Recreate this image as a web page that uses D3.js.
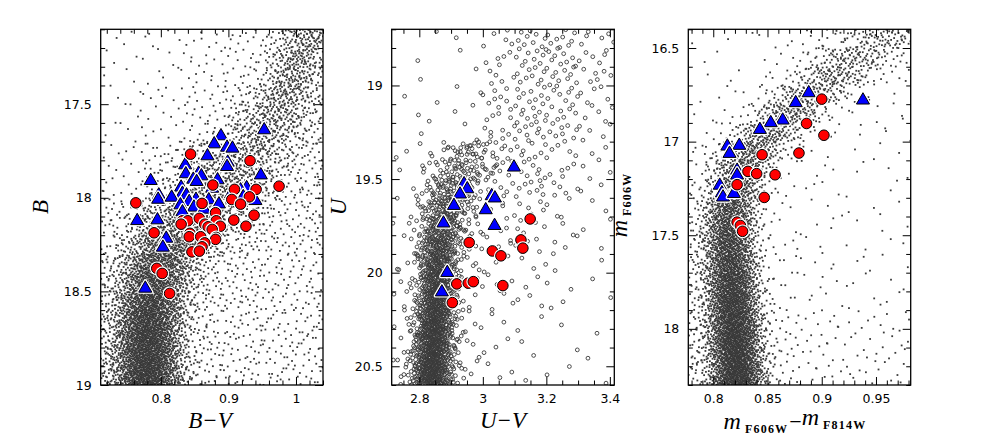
<!DOCTYPE html>
<html><head><meta charset="utf-8">
<script src="https://cdn.jsdelivr.net/npm/d3@7"></script>
<style>body{margin:0;background:#fff}svg{display:block}</style>
</head><body><svg id="c" width="981" height="443"></svg>
<script>
// ---------------- DATA ----------------
// Panel 1 : B vs B-V
const bvTriangles = [[0.953,17.638],[0.889,17.670],[0.879,17.713],[0.898,17.731],[0.906,17.736],[0.869,17.777],[0.899,17.811],[0.898,17.834],[0.836,17.825],[0.948,17.879],[0.837,17.873],[0.856,17.870],[0.860,17.884],[0.848,17.902],[0.785,17.909],[0.884,17.905],[0.853,17.914],[0.876,17.950],[0.830,17.944],[0.927,17.947],[0.918,17.959],[0.832,17.977],[0.838,17.986],[0.797,17.986],[0.796,18.009],[0.816,17.998],[0.904,17.980],[0.922,17.995],[0.931,18.012],[0.940,18.016],[0.852,18.009],[0.842,18.021],[0.871,18.012],[0.886,18.034],[0.829,18.039],[0.849,18.051],[0.864,18.062],[0.832,18.076],[0.765,18.123],[0.795,18.119],[0.808,18.217],[0.803,18.265],[0.777,18.484]];
const bvCircles = [[0.844,17.767],[0.932,17.802],[0.877,17.932],[0.975,17.938],[0.941,17.955],[0.909,17.955],[0.931,17.995],[0.905,18.009],[0.918,18.034],[0.763,18.027],[0.861,18.030],[0.881,18.080],[0.938,18.093],[0.832,18.123],[0.840,18.123],[0.857,18.110],[0.882,18.123],[0.908,18.119],[0.830,18.141],[0.865,18.141],[0.870,18.155],[0.888,18.152],[0.926,18.152],[0.876,18.169],[0.790,18.187],[0.843,18.190],[0.842,18.208],[0.859,18.208],[0.882,18.212],[0.881,18.222],[0.865,18.241],[0.861,18.262],[0.846,18.289],[0.857,18.285],[0.794,18.377],[0.802,18.404],[0.813,18.511]];
const bvRidgeMag   = [17.15,17.25,17.35,17.45,17.55,17.65,17.75,17.85,17.95,18.05,18.15,18.25,18.35,18.45,18.55,18.65,18.75,18.85,18.95];
const bvRidgeColor = [1.015,1.005,0.995,0.985,0.970,0.955,0.930,0.905,0.880,0.855,0.830,0.810,0.797,0.790,0.785,0.782,0.781,0.780,0.780];
const bvRidgeWidth = [0.024,0.024,0.025,0.027,0.031,0.036,0.041,0.046,0.050,0.050,0.045,0.036,0.031,0.029,0.028,0.027,0.027,0.027,0.027];
const bvRidgeCount = [90,95,100,105,110,115,125,145,175,205,235,270,310,355,400,430,460,480,500];
const bvFieldColorEdges = [0.711,0.77,0.83,0.89,0.95,1.04];
const bvFieldMagEdges = [17.1,17.4,17.7,18.0,18.3,18.6,19.0];
const bvFieldCounts = [[9,13,22,34,68],[11,18,34,56,85],[18,45,90,90,85],[34,90,112,78,85],[67,90,67,56,68],[120,120,75,66,91]];
const bvXTicks = [0.8,0.9,1.0];
const bvYTicks = [17.5,18,18.5,19];

// Panel 2 : U vs U-V
const uvTriangles = [[3.098,19.437],[2.941,19.526],[2.951,19.553],[2.928,19.581],[3.028,19.590],[3.038,19.602],[2.909,19.642],[3.009,19.665],[2.876,19.736],[3.037,19.749],[2.888,20.000],[2.871,20.104]];
const uvCircles = [[3.149,19.713],[2.957,19.839],[3.120,19.825],[3.126,19.869],[3.030,19.884],[3.057,19.910],[2.918,20.060],[2.954,20.056],[2.970,20.048],[3.063,20.069],[2.904,20.160]];
const uvRidgeMag   = [19.35,19.45,19.55,19.65,19.75,19.85,19.95,20.05,20.15,20.25,20.35,20.45,20.55];
const uvRidgeColor = [2.960,2.930,2.905,2.885,2.870,2.862,2.858,2.855,2.852,2.850,2.846,2.842,2.840];
const uvRidgeWidth = [0.050,0.050,0.045,0.040,0.038,0.036,0.034,0.032,0.032,0.033,0.034,0.035,0.036];
const uvRidgeCount = [25,40,60,75,90,100,110,120,135,145,155,165,170];
const uvFieldColorEdges = [2.713,2.8,2.9,3.0,3.1,3.2,3.3,3.414];
const uvFieldMagEdges = [18.7,19.0,19.3,19.6,19.9,20.2,20.6];
const uvFieldCounts = [[1,2,3,15,28,28,18],[2,3,6,20,28,25,15],[4,20,25,25,25,15,8],[6,15,25,18,14,10,5],[8,15,15,10,8,5,3],[10,15,15,8,5,4,3]];
const uvXTicks = [2.8,3.0,3.2,3.4];
const uvYTicks = [19,19.5,20,20.5];

// Panel 3 : mF606W vs mF606W-mF814W
const hstTriangles = [[0.888,16.740],[0.938,16.779],[0.876,16.793],[0.864,16.886],[0.853,16.900],[0.843,16.936],[0.813,17.025],[0.824,17.021],[0.815,17.064],[0.822,17.154],[0.822,17.180],[0.806,17.234],[0.808,17.275],[0.809,17.297],[0.819,17.278]];
const hstCircles = [[0.900,16.773],[0.886,16.903],[0.902,16.966],[0.845,17.070],[0.879,17.061],[0.832,17.159],[0.840,17.171],[0.857,17.177],[0.822,17.230],[0.847,17.298],[0.822,17.430],[0.825,17.448],[0.827,17.479]];
const hstRidgeMag   = [16.45,16.55,16.65,16.75,16.85,16.95,17.05,17.15,17.25,17.35,17.45,17.55,17.65,17.75,17.85,17.95,18.05,18.15,18.25];
const hstRidgeColor = [0.955,0.930,0.910,0.890,0.870,0.850,0.836,0.826,0.820,0.816,0.815,0.815,0.816,0.817,0.818,0.819,0.820,0.821,0.822];
const hstRidgeWidth = [0.021,0.021,0.020,0.019,0.018,0.017,0.016,0.015,0.014,0.013,0.013,0.013,0.013,0.013,0.013,0.013,0.013,0.013,0.013];
const hstRidgeCount = [80,100,115,125,135,145,160,175,200,225,260,290,320,350,380,400,420,440,450];
const hstFieldColorEdges = [0.777,0.80,0.84,0.88,0.92,0.982];
const hstFieldMagEdges = [16.4,16.7,17.0,17.3,17.6,17.9,18.3];
const hstFieldCounts = [[3,5,14,29,38],[4,14,24,19,15],[14,29,14,10,11],[28,29,14,10,11],[35,48,19,12,15],[56,97,45,30,40]];
const hstXTicks = [0.8,0.85,0.9,0.95];
const hstYTicks = [16.5,17,17.5,18];

// ---------------- DRAWING ----------------
const TOP = 29.3, BOTTOM = 385;
const svg = d3.select("#c");

function halton(i, b){ let f = 1, r = 0; while(i > 0){ f /= b; r += f * (i % b); i = Math.floor(i / b); } return r; }
function probit(p){
  const s = p < 0.5 ? -1 : 1; const q = p < 0.5 ? p : 1 - p;
  const t = Math.sqrt(-2 * Math.log(q));
  const z = t - (2.515517 + 0.802853*t + 0.010328*t*t) / (1 + 1.432788*t + 0.189269*t*t + 0.001308*t*t*t);
  return s * z;
}
function buildStars(p){
  const pts = []; let k = p.seed;
  p.ridgeMag.forEach((m, i) => {
    for (let j = 0; j < p.ridgeCount[i]; j++){ k++;
      pts.push([p.ridgeColor[i] + p.ridgeWidth[i] * probit(halton(k,2)), m - 0.05 + 0.1 * halton(k,3)]); }
  });
  p.fieldCounts.forEach((row, r) => row.forEach((n, c) => {
    const xe = p.fieldColorEdges, ye = p.fieldMagEdges;
    for (let j = 0; j < n; j++){ k++;
      pts.push([xe[c] + (xe[c+1]-xe[c]) * halton(k,2), ye[r] + (ye[r+1]-ye[r]) * halton(k,3)]); }
  }));
  return pts;
}
const fmt = v => String(+v.toFixed(3));
const minorTicks = (dom, step) => { const a = []; const lo = Math.ceil(Math.min(...dom)/step - 1e-9), hi = Math.floor(Math.max(...dom)/step + 1e-9); for (let i = lo; i <= hi; i++) a.push(+(i*step).toFixed(4)); return a; };

function drawPanel(p, idx){
  const x = d3.scaleLinear().domain(p.xDomain).range([p.left, p.right]);
  const y = d3.scaleLinear().domain(p.yDomain).range([TOP, BOTTOM]);
  const g = svg.append("g");
  const cid = "clip" + idx;
  svg.append("clipPath").attr("id", cid).append("rect")
    .attr("x", p.left).attr("y", TOP).attr("width", p.right - p.left).attr("height", BOTTOM - TOP);
  const stars = buildStars(p);
  const sg = g.append("g").attr("clip-path", `url(#${cid})`);
  if (p.open){
    sg.selectAll("circle").data(stars).join("circle")
      .attr("cx", d => x(d[0])).attr("cy", d => y(d[1])).attr("r", 1.9)
      .attr("fill", "none").attr("stroke", "#3a3a3a").attr("stroke-width", 0.9);
  } else {
    sg.selectAll("rect").data(stars).join("rect")
      .attr("x", d => x(d[0]) - 0.9).attr("y", d => y(d[1]) - 0.9).attr("width", 1.8).attr("height", 1.8)
      .attr("fill", "#3a3a3a");
  }
  // markers
  const mg = g.append("g").attr("clip-path", `url(#${cid})`);
  const tri = d3.symbol(d3.symbolTriangle, 74)();
  p.triangles.forEach(d => {
    const t = `translate(${x(d[0])},${y(d[1])})`;
    mg.append("path").attr("d", tri).attr("transform", t).attr("fill", "#fff").attr("stroke", "#fff").attr("stroke-width", 3.4).attr("stroke-linejoin", "round");
    mg.append("path").attr("d", tri).attr("transform", t).attr("fill", "#0000ff").attr("stroke", "#000").attr("stroke-width", 1);
  });
  p.circles.forEach(d => {
    mg.append("circle").attr("cx", x(d[0])).attr("cy", y(d[1])).attr("r", 6.9).attr("fill", "#fff");
    mg.append("circle").attr("cx", x(d[0])).attr("cy", y(d[1])).attr("r", 5.3).attr("fill", "#ff0000").attr("stroke", "#000").attr("stroke-width", 1);
  });
  // axes
  const xMinor = minorTicks(p.xDomain, p.xMinorStep).filter(v => !p.xTicks.some(t => Math.abs(t - v) < 1e-6));
  const yMinor = minorTicks(p.yDomain, 0.1).filter(v => !p.yTicks.some(t => Math.abs(t - v) < 1e-6));
  const ax = [
    [d3.axisBottom(x).tickValues(p.xTicks).tickSize(-8).tickPadding(9).tickFormat(fmt), `translate(0,${BOTTOM})`],
    [d3.axisBottom(x).tickValues(xMinor).tickSize(-4.5).tickFormat(""), `translate(0,${BOTTOM})`],
    [d3.axisTop(x).tickValues(p.xTicks).tickSize(-8).tickFormat(""), `translate(0,${TOP})`],
    [d3.axisTop(x).tickValues(xMinor).tickSize(-4.5).tickFormat(""), `translate(0,${TOP})`],
    [d3.axisLeft(y).tickValues(p.yTicks).tickSize(-8).tickPadding(9).tickFormat(fmt), `translate(${p.left},0)`],
    [d3.axisLeft(y).tickValues(yMinor).tickSize(-4.5).tickFormat(""), `translate(${p.left},0)`],
    [d3.axisRight(y).tickValues(p.yTicks).tickSize(-8).tickFormat(""), `translate(${p.right},0)`],
    [d3.axisRight(y).tickValues(yMinor).tickSize(-4.5).tickFormat(""), `translate(${p.right},0)`]
  ];
  ax.forEach(([a, t]) => {
    const ag = g.append("g").attr("transform", t).call(a);
    ag.select(".domain").remove();
    ag.selectAll("line").attr("stroke", "#000").attr("stroke-width", 1);
    ag.selectAll("text").attr("font-family", "'DejaVu Sans', sans-serif").attr("font-size", 12.5).attr("fill", "#000");
  });
  g.append("rect").attr("x", p.left).attr("y", TOP).attr("width", p.right - p.left).attr("height", BOTTOM - TOP)
    .attr("fill", "none").attr("stroke", "#000").attr("stroke-width", 1.3);
  return {x, y, g};
}

const panels = [
  {left:100.7, right:323, xDomain:[0.711,1.040], yDomain:[17.1,19.0], xMinorStep:0.02, xTicks:bvXTicks, yTicks:bvYTicks,
   triangles:bvTriangles, circles:bvCircles, ridgeMag:bvRidgeMag, ridgeColor:bvRidgeColor, ridgeWidth:bvRidgeWidth, ridgeCount:bvRidgeCount,
   fieldColorEdges:bvFieldColorEdges, fieldMagEdges:bvFieldMagEdges, fieldCounts:bvFieldCounts, seed:1, open:false},
  {left:391.7, right:614.3, xDomain:[2.713,3.414], yDomain:[18.7,20.6], xMinorStep:0.05, xTicks:uvXTicks, yTicks:uvYTicks,
   triangles:uvTriangles, circles:uvCircles, ridgeMag:uvRidgeMag, ridgeColor:uvRidgeColor, ridgeWidth:uvRidgeWidth, ridgeCount:uvRidgeCount,
   fieldColorEdges:uvFieldColorEdges, fieldMagEdges:uvFieldMagEdges, fieldCounts:uvFieldCounts, seed:20000, open:true},
  {left:688.3, right:910.7, xDomain:[0.777,0.982], yDomain:[16.4,18.3], xMinorStep:0.01, xTicks:hstXTicks, yTicks:hstYTicks,
   triangles:hstTriangles, circles:hstCircles, ridgeMag:hstRidgeMag, ridgeColor:hstRidgeColor, ridgeWidth:hstRidgeWidth, ridgeCount:hstRidgeCount,
   fieldColorEdges:hstFieldColorEdges, fieldMagEdges:hstFieldMagEdges, fieldCounts:hstFieldCounts, seed:40000, open:false}
];
panels.forEach(drawPanel);

// axis titles
const serif = "'Liberation Serif', 'Times New Roman', serif";
function title(xp, yp, rot){
  return svg.append("text").attr("font-family", serif).attr("fill", "#000")
    .attr("text-anchor", "middle").attr("transform", `translate(${xp},${yp})` + (rot ? " rotate(-90)" : ""));
}
title(210, 428, false).attr("font-size", 23).attr("font-style", "italic").text("B\u2212V");
title(48, 207, true).attr("font-size", 23).attr("font-style", "italic").text("B");
title(503, 428, false).attr("font-size", 23).attr("font-style", "italic").text("U\u2212V");
title(346, 207, true).attr("font-size", 23).attr("font-style", "italic").text("U");

function mLabel(t, parts){
  parts.forEach(([txt, sub], i) => {
    const s = t.append("tspan").text(txt);
    if (sub === "m"){ s.attr("font-size", 24).attr("font-style", "italic"); if (i > 0) s.attr("dy", -4); }
    else if (sub === "op"){ s.attr("font-size", 22).attr("dy", -4).attr("dx", 1); }
    else { s.attr("font-size", 12).attr("dy", 4).attr("dx", 4).attr("letter-spacing", 1.2).attr("font-weight", "bold"); }
  });
}
mLabel(title(795, 429, false), [["m","m"],["F606W","s"],["\u2212","op"],["m","m"],["F814W","s"]]);
mLabel(title(627, 205, true), [["m","m"],["F606W","s"]]);
</script>
</body></html>
